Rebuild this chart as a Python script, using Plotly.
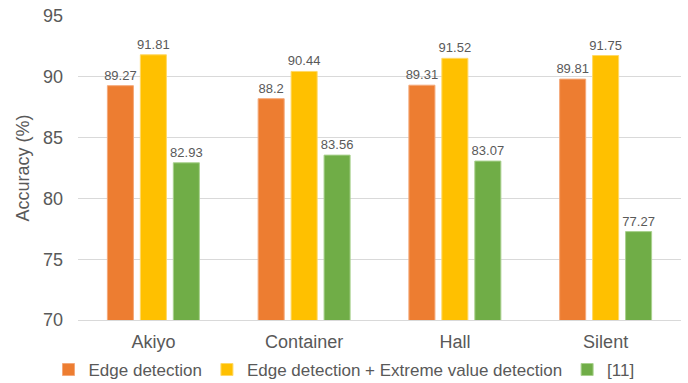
import plotly.graph_objects as go

categories = ["Akiyo", "Container", "Hall", "Silent"]
edge = [89.27, 88.2, 89.31, 89.81]
edge_extreme = [91.81, 90.44, 91.52, 91.75]
ref11 = [82.93, 83.56, 83.07, 77.27]

series = [
    ("Edge detection", edge, "#ED7D31", "#F4A97A"),
    ("Edge detection + Extreme value detection", edge_extreme, "#FFC000", "#FFD966"),
    ("[11]", ref11, "#70AD47", "#A9D18E"),
]

fig = go.Figure()
for name, vals, color, edgecol in series:
    fig.add_trace(go.Bar(
        x=categories, y=vals, name=name,
        marker=dict(color=color, line=dict(color=edgecol, width=1)),
        text=[str(v) for v in vals], textposition="outside",
        textfont=dict(family="Liberation Sans, Arial", size=13, color="#595959"),
        constraintext="none", cliponaxis=False,
    ))

fig.update_layout(
    width=688, height=383,
    margin=dict(l=78, r=7, t=16, b=63, autoexpand=False),
    plot_bgcolor="white", paper_bgcolor="white",
    barmode="group", bargap=0.344, bargroupgap=0.21,
    font=dict(family="Liberation Sans, Arial", color="#595959"),
    yaxis=dict(
        range=[70, 95], dtick=5, showgrid=True, gridcolor="#D9D9D9", gridwidth=1,
        zeroline=False, showline=False, ticks="",
        tickfont=dict(size=18, color="#595959"), ticklabelstandoff=14,
        title=dict(text="Accuracy (%)", font=dict(size=18, color="#595959"), standoff=8),
    ),
    xaxis=dict(
        showline=True, linecolor="#D9D9D9", ticks="",
        tickfont=dict(size=18, color="#595959"), ticklabelstandoff=5,
    ),
    legend=dict(
        orientation="h", xref="container", x=0.5, xanchor="center",
        yref="container", y=0.034, yanchor="middle", bgcolor="rgba(0,0,0,0)",
        font=dict(size=17, color="#595959"), itemwidth=30, traceorder="normal",
    ),
    showlegend=True,
)

fig.write_html("out.html")
